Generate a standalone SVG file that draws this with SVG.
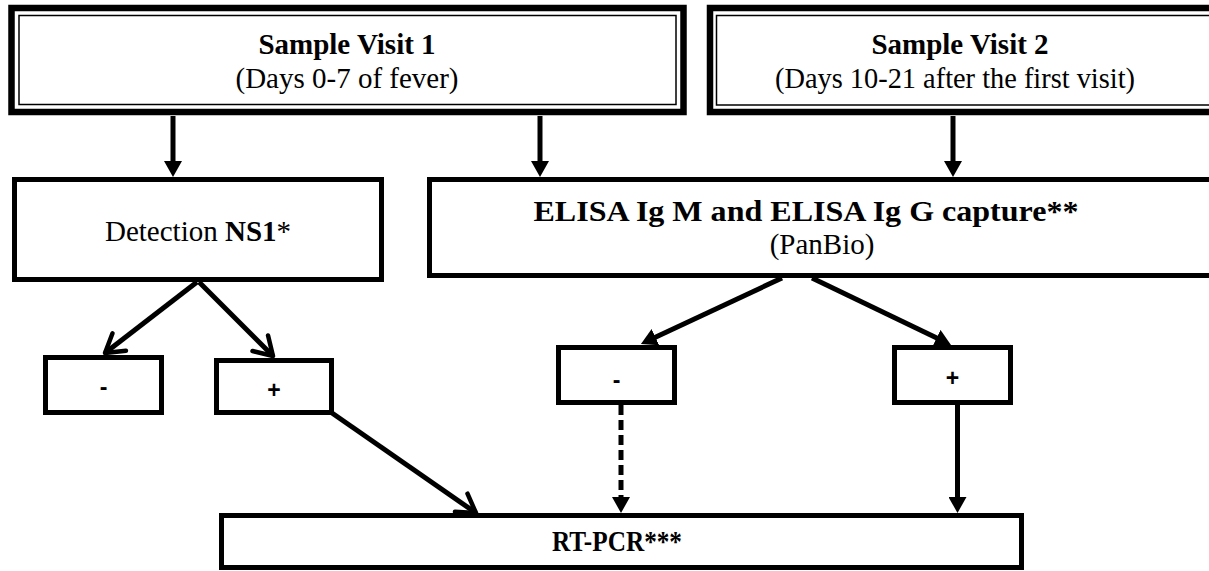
<svg xmlns="http://www.w3.org/2000/svg" width="1209" height="571" viewBox="0 0 1209 571">
<style>
.t{font-family:"Liberation Serif","Times New Roman",serif;font-size:29px;fill:#000;text-anchor:middle}
.b{font-weight:bold}
.s{font-family:"Liberation Sans",Arial,sans-serif;font-size:23px;font-weight:bold;fill:#000;text-anchor:middle}
.box{fill:#fff;stroke:#000;stroke-width:5}
.thick{fill:#fff;stroke:#000;stroke-width:6.5}
.thin{fill:none;stroke:#000;stroke-width:1.5}
.c{fill:none;stroke:#000;stroke-width:5}
.dash{stroke-dasharray:10 5}
.tri{marker-end:url(#tri)}
.vee{marker-end:url(#vee)}
</style>
<defs>
<marker id="tri" markerUnits="userSpaceOnUse" viewBox="0 0 16 18" markerWidth="16" markerHeight="18" refX="6" refY="9" orient="auto">
<path d="M0,0 L16,9 L0,18 z" fill="#000" stroke="none"/>
</marker>
<marker id="vee" markerUnits="userSpaceOnUse" viewBox="-22 -15 26 30" markerWidth="26" markerHeight="30" refX="0" refY="0" orient="auto">
<path d="M-18,-11 L0,0 L-18,11" fill="none" stroke="#000" stroke-width="4.5" stroke-linecap="round" stroke-linejoin="round"/>
</marker>
</defs>
<rect width="1209" height="571" fill="#fff"/>

<g id="visit1">
<rect class="thick" x="11.5" y="8" width="672" height="104"/>
<rect class="thin" x="19" y="15.5" width="657" height="89"/>
<text class="t b" x="347" y="54">Sample Visit 1</text>
<text class="t" x="347" y="88">(Days 0-7 of fever)</text>
</g>

<g id="visit2">
<rect class="thick" x="710" y="8" width="510" height="104"/>
<rect class="thin" x="716.5" y="15.5" width="500" height="89.5"/>
<text class="t b" x="960" y="54">Sample Visit 2</text>
<text class="t" x="955" y="88" textLength="360" lengthAdjust="spacingAndGlyphs">(Days 10-21 after the first visit)</text>
</g>

<g id="detection">
<rect class="box" x="14.5" y="179.5" width="367" height="100"/>
<text class="t" x="198" y="241">Detection <tspan class="b">NS1</tspan>*</text>
</g>

<g id="elisa">
<rect class="box" x="429.5" y="179.5" width="790" height="96"/>
<text class="t b" x="806" y="221" textLength="545" lengthAdjust="spacingAndGlyphs">ELISA Ig M and ELISA Ig G capture**</text>
<text class="t" x="822" y="254">(PanBio)</text>
</g>

<g id="ns1-neg">
<rect class="box" x="45.5" y="357.5" width="116" height="55"/>
<text class="s" x="103.5" y="395">-</text>
</g>

<g id="ns1-pos">
<rect class="box" x="216.5" y="360.5" width="115" height="52"/>
<text class="s" x="274" y="398">+</text>
</g>

<g id="elisa-neg">
<rect class="box" x="558.5" y="347.5" width="116" height="55"/>
<text class="s" x="616.5" y="388">-</text>
</g>

<g id="elisa-pos">
<rect class="box" x="894.5" y="347.5" width="116" height="55"/>
<text class="s" x="952.5" y="386">+</text>
</g>

<g id="rtpcr">
<rect class="box" x="221.5" y="515.5" width="800" height="52"/>
<text class="t b" x="617" y="551" textLength="130" lengthAdjust="spacingAndGlyphs">RT-PCR***</text>
</g>

<g id="connectors">
<line class="c tri" x1="173" y1="116" x2="173" y2="167"/>
<line class="c tri" x1="540" y1="116" x2="540" y2="167"/>
<line class="c tri" x1="953" y1="116" x2="953" y2="167"/>
<line class="c vee" x1="197" y1="282" x2="105" y2="353"/>
<line class="c vee" x1="199" y1="282" x2="273" y2="356"/>
<line class="c tri" x1="782" y1="278" x2="650" y2="339.7"/>
<line class="c tri" x1="812" y1="278" x2="942" y2="340.6"/>
<line class="c vee" x1="332" y1="413" x2="476" y2="513"/>
<line class="c dash tri" x1="621" y1="405" x2="621" y2="503"/>
<line class="c tri" x1="957.5" y1="405" x2="957.5" y2="503"/>
</g>
</svg>
